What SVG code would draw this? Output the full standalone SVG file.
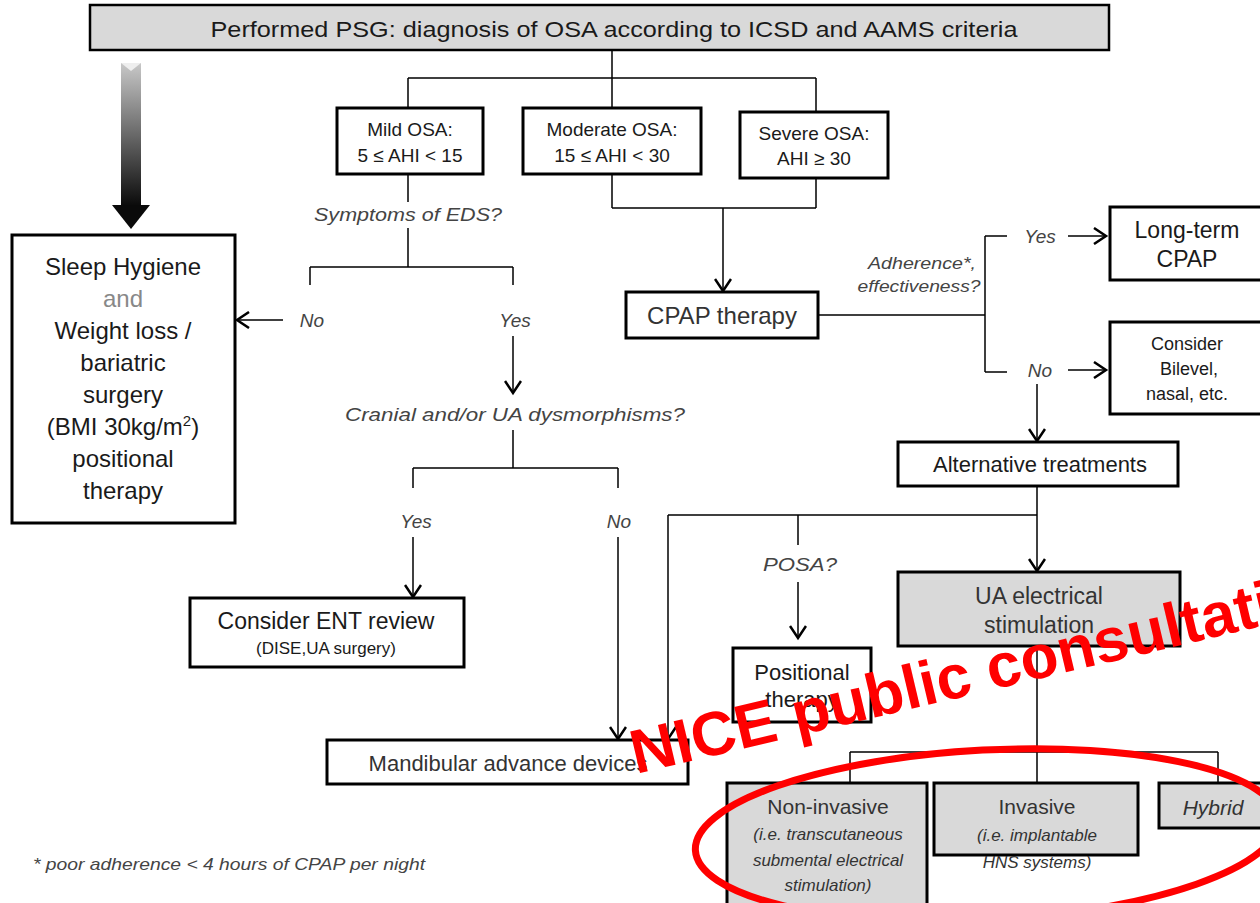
<svg xmlns="http://www.w3.org/2000/svg" width="1260" height="903" viewBox="0 0 1260 903">
<defs>
<style>
.t{font-family:"Liberation Sans",Arial,sans-serif;fill:#1a1a1a;text-anchor:middle}
.l{font-family:"Liberation Sans",Arial,sans-serif;fill:#333;text-anchor:middle}
.i{font-family:"Liberation Sans",Arial,sans-serif;font-style:italic;fill:#444;text-anchor:middle}
.bx{fill:#fff;stroke:#000;stroke-width:3}
.gx{fill:#d9d9d9;stroke:#000;stroke-width:3}
.c{fill:none;stroke:#000;stroke-width:1.5}
</style>
<marker id="ah" markerUnits="userSpaceOnUse" markerWidth="16" markerHeight="18" refX="13" refY="9" orient="auto">
<path d="M1,1 L13,9 L1,17" fill="none" stroke="#000" stroke-width="2.5"/>
</marker>
<linearGradient id="gr" x1="0" y1="0" x2="0" y2="1">
<stop offset="0" stop-color="#c8c8c8"/>
<stop offset="1" stop-color="#0a0a0a"/>
</linearGradient>
</defs>
<rect width="1260" height="903" fill="#fff"/>

<g id="connectors">
<path class="c" d="M612,50 V78 M408,78 H816 M408,78 V108 M612,78 V108 M816,78 V112"/>
<path class="c" d="M408,174 V202 M408,228 V267 M310,267 H513 M310,267 V285 M513,267 V285"/>
<path class="c" d="M283,320 H237" marker-end="url(#ah)"/>
<path class="c" d="M513,336 V393" marker-end="url(#ah)"/>
<path class="c" d="M513,430 V468 M413,468 H618 M413,468 V488 M618,468 V488"/>
<path class="c" d="M413,537 V597" marker-end="url(#ah)"/>
<path class="c" d="M618,537 V739" marker-end="url(#ah)"/>
<path class="c" d="M612,174 V208 M816,178 V208 M612,208 H816"/>
<path class="c" d="M723,208 V291" marker-end="url(#ah)"/>
<path class="c" d="M818,315 H985 M985,236 V372 M985,236 H1007 M985,372 H1007"/>
<path class="c" d="M1068,236 H1106" marker-end="url(#ah)"/>
<path class="c" d="M1068,370 H1106" marker-end="url(#ah)"/>
<path class="c" d="M1037,384 V441" marker-end="url(#ah)"/>
<path class="c" d="M1037,486 V515 M668,515 H1037 M798,515 V545"/>
<path class="c" d="M668,515 V739" marker-end="url(#ah)"/>
<path class="c" d="M798,582 V638" marker-end="url(#ah)"/>
<path class="c" d="M1037,515 V571" marker-end="url(#ah)"/>
<path class="c" d="M1037,646 V783 M850,752 H1218 M850,752 V783 M1218,752 V783"/>
<g id="bigarrow">
<rect x="121" y="63" width="20" height="143" fill="url(#gr)"/>
<polygon points="112,205 150,205 131,229" fill="#0a0a0a"/>
<polygon points="121,63 131,71 141,63" fill="#eee"/>
</g>
</g>

<g id="labels">
<text class="i" x="408" y="221" font-size="19" textLength="188" lengthAdjust="spacingAndGlyphs">Symptoms of EDS?</text>
<text class="i" x="312" y="327" font-size="19">No</text>
<text class="i" x="515" y="327" font-size="19">Yes</text>
<text class="i" x="515" y="421" font-size="19" textLength="340" lengthAdjust="spacingAndGlyphs">Cranial and/or UA dysmorphisms?</text>
<text class="i" x="416" y="528" font-size="19">Yes</text>
<text class="i" x="619" y="528" font-size="19">No</text>
<text class="i" x="922" y="269" font-size="17" textLength="108" lengthAdjust="spacingAndGlyphs">Adherence*,</text>
<text class="i" x="919" y="292" font-size="17" textLength="123" lengthAdjust="spacingAndGlyphs">effectiveness?</text>
<text class="i" x="1040" y="243" font-size="19">Yes</text>
<text class="i" x="1040" y="377" font-size="19">No</text>
<text class="i" x="800" y="571" font-size="19" textLength="74" lengthAdjust="spacingAndGlyphs">POSA?</text>
<text class="i" x="229" y="870" font-size="17" textLength="392" lengthAdjust="spacingAndGlyphs">* poor adherence &lt; 4 hours of CPAP per night</text>
</g>

<g id="n-top">
<rect x="90" y="5" width="1019" height="45" fill="#d9d9d9" stroke="#000" stroke-width="2.5"/>
<text class="t" x="614" y="37" font-size="22" textLength="807" lengthAdjust="spacingAndGlyphs">Performed PSG: diagnosis of OSA according to ICSD and AAMS criteria</text>
</g>
<g id="n-mild">
<rect class="bx" x="337" y="108" width="146" height="66" stroke-width="2.5"/>
<text class="t" x="410" y="136" font-size="19">Mild OSA:</text>
<text class="t" x="410" y="162" font-size="19">5 ≤ AHI &lt; 15</text>
</g>
<g id="n-moderate">
<rect class="bx" x="523" y="108" width="178" height="66" stroke-width="2.5"/>
<text class="t" x="612" y="136" font-size="19">Moderate OSA:</text>
<text class="t" x="612" y="162" font-size="19">15 ≤ AHI &lt; 30</text>
</g>
<g id="n-severe">
<rect class="bx" x="740" y="112" width="148" height="66" stroke-width="2.5"/>
<text class="t" x="814" y="140" font-size="19">Severe OSA:</text>
<text class="t" x="814" y="165" font-size="19">AHI ≥ 30</text>
</g>
<g id="n-sleep">
<rect class="bx" x="12" y="235" width="223" height="288" stroke-width="2"/>
<text class="t" x="123" y="275" font-size="24">Sleep Hygiene</text>
<text class="t" x="123" y="307" font-size="24" style="fill:#888">and</text>
<text class="t" x="123" y="339" font-size="24">Weight loss /</text>
<text class="t" x="123" y="371" font-size="24">bariatric</text>
<text class="t" x="123" y="403" font-size="24">surgery</text>
<text class="t" x="123" y="435" font-size="24">(BMI 30kg/m<tspan font-size="15" dy="-9">2</tspan><tspan dy="9">)</tspan></text>
<text class="t" x="123" y="467" font-size="24">positional</text>
<text class="t" x="123" y="499" font-size="24">therapy</text>
</g>
<g id="n-cpap">
<rect class="bx" x="626" y="292" width="192" height="46"/>
<text class="l" x="722" y="324" font-size="24">CPAP therapy</text>
</g>
<g id="n-longterm">
<rect class="bx" x="1110" y="207" width="155" height="73"/>
<text class="t" x="1187" y="238" font-size="23">Long-term</text>
<text class="t" x="1187" y="267" font-size="23">CPAP</text>
</g>
<g id="n-bilevel">
<rect class="bx" x="1110" y="322" width="155" height="92"/>
<text class="t" x="1187" y="350" font-size="18">Consider</text>
<text class="t" x="1189" y="375" font-size="18">Bilevel,</text>
<text class="t" x="1187" y="400" font-size="18">nasal, etc.</text>
</g>
<g id="n-alt">
<rect class="bx" x="898" y="442" width="280" height="44"/>
<text class="t" x="1040" y="472" font-size="22">Alternative treatments</text>
</g>
<g id="n-ent">
<rect class="bx" x="190" y="598" width="274" height="69"/>
<text class="t" x="326" y="629" font-size="23">Consider ENT review</text>
<text class="t" x="326" y="654" font-size="17">(DISE,UA surgery)</text>
</g>
<g id="n-positional">
<rect class="bx" x="733" y="648" width="138" height="74"/>
<text class="t" x="802" y="680" font-size="22">Positional</text>
<text class="t" x="802" y="707" font-size="22">therapy</text>
</g>
<g id="n-ua">
<rect class="gx" x="898" y="572" width="282" height="74"/>
<text class="l" x="1039" y="604" font-size="23">UA electrical</text>
<text class="l" x="1039" y="633" font-size="23">stimulation</text>
</g>
<g id="n-mandibular">
<rect class="bx" x="327" y="740" width="361" height="44"/>
<text class="l" x="508" y="771" font-size="22">Mandibular advance devices</text>
</g>
<g id="n-noninvasive">
<rect class="gx" x="727" y="783" width="200" height="130"/>
<text class="l" x="828" y="814" font-size="21">Non-invasive</text>
<text class="i" x="828" y="840" font-size="17" style="fill:#333">(i.e. transcutaneous</text>
<text class="i" x="828" y="866" font-size="17" style="fill:#333">submental electrical</text>
<text class="i" x="828" y="891" font-size="17" style="fill:#333">stimulation)</text>
</g>
<g id="n-invasive">
<rect class="gx" x="934" y="783" width="204" height="72"/>
<text class="l" x="1037" y="814" font-size="21">Invasive</text>
<text class="i" x="1037" y="841" font-size="17" style="fill:#333">(i.e. implantable</text>
<text class="i" x="1037" y="868" font-size="17" style="fill:#333">HNS systems)</text>
</g>
<g id="n-hybrid">
<rect class="gx" x="1159" y="783" width="110" height="45"/>
<text class="i" x="1213" y="815" font-size="21" style="fill:#333">Hybrid</text>
</g>

<g id="watermark">
<ellipse cx="987" cy="835" rx="292" ry="85" fill="none" stroke="#f00" stroke-width="7" transform="rotate(-3 987 835)"/>
<text x="0" y="0" transform="translate(636 774) rotate(-13.3)" font-family="Liberation Sans, Arial, sans-serif" font-weight="bold" font-size="62" fill="#f00">NICE public consultation</text>
</g>
</svg>
